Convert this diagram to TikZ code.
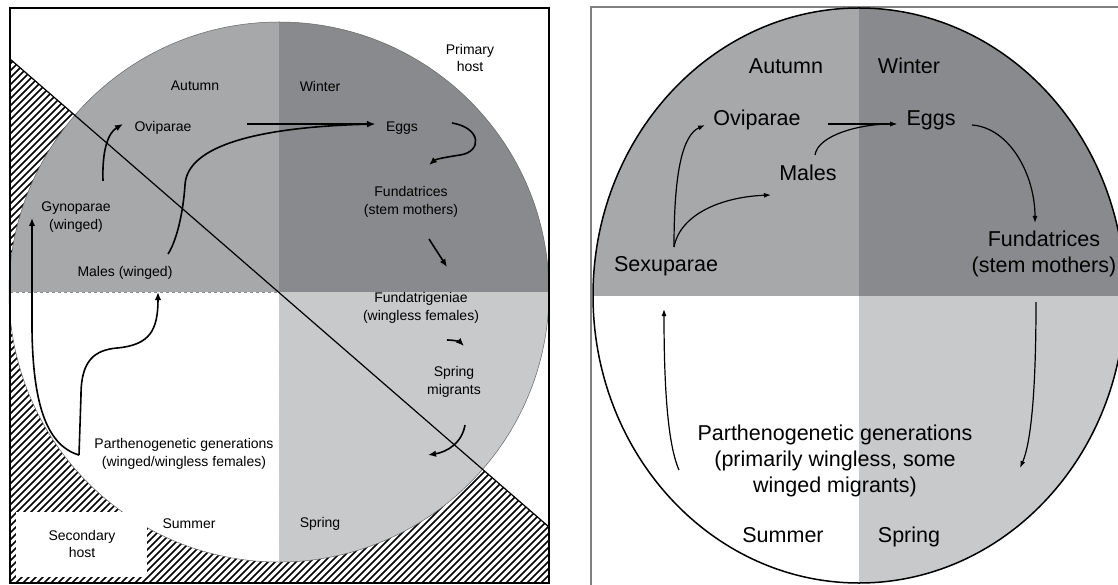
\documentclass[tikz,border=0pt]{standalone}
\usepackage{fontspec}
\setmainfont{Liberation Sans}
\usetikzlibrary{arrows.meta}
\definecolor{autumn}{HTML}{A7A8AA}
\definecolor{winter}{HTML}{898A8D}
\definecolor{spring}{HTML}{C8C9CB}
\begin{document}
\begin{tikzpicture}[
  x=1pt, y=-1pt,
  every node/.style={align=center, inner sep=0pt},
  lab/.style={font=\fontsize{14}{17.3}\selectfont},
  big/.style={font=\fontsize{21.5}{26}\selectfont},
  cyc/.style={line width=1.6pt, -{Latex[length=8pt,width=6.5pt]}},
  cycr/.style={line width=1.2pt, -{Latex[length=7pt,width=5pt]}},
  hatch/.style={line width=1.5pt}
]
\useasboundingbox (0,0) rectangle (1118,585);
\clip (0,0) rectangle (1118,585);

% left panel: hosts and seasons
\begin{scope}
  \clip (10,59) -- (549,527) -- (549,583) -- (10,583) -- cycle;
  \foreach \c in {60,67,...,1140}
    \draw[hatch] (\c,0) -- (0,\c);
\end{scope}
\begin{scope}
  \clip (279,292) circle (270);
  \fill[autumn] (0,0) rectangle (279,292);
  \fill[winter] (279,0) rectangle (560,292);
  \fill[white] (0,292) rectangle (279,570);
  \fill[spring] (279,292) rectangle (560,570);
\end{scope}
\draw[black!45, dashed, line width=0.6pt] (10,292) -- (279,292);
\draw[white!80!black, dashed, line width=0.6pt] (279,292) -- (279,562);
\draw[black!60, line width=0.5pt] (279,292) circle (270);
\draw[line width=1.2pt] (10,59) -- (549,527);
\draw[line width=1.3pt] (10,8) rectangle (549,583);
\fill[white] (16,512) rectangle (147,577);

\node[lab] (primhost) at (470,58) {Primary\\host};
\node[lab] (autumnL) at (195,86) {Autumn};
\node[lab] (winterL) at (320,86) {Winter};
\node[lab] (ovipL) at (163,128) {Oviparae};
\node[lab] (eggsL) at (402,128) {Eggs};
\node[lab] (fundL) at (411,202) {Fundatrices\\(stem mothers)};
\node[lab] (gynoL) at (76,217) {Gynoparae\\(winged)};
\node[lab] (malesL) at (125,273) {Males (winged)};
\node[lab] (fundtrig) at (421,308) {Fundatrigeniae\\(wingless females)};
\node[lab] (springmig) at (454,382) {Spring\\migrants};
\node[lab] (parthL) at (184,454) {Parthenogenetic generations\\(winged/wingless females)};
\node[lab] (summerL) at (189,524) {Summer};
\node[lab] (springL) at (320,524) {Spring};
\node[lab] (sechost) at (82,544) {Secondary\\host};

\coordinate (ovipLout) at (247,124);
\coordinate (eggsLin) at (375,124);
\coordinate (malesLout) at (168,254);
\coordinate (gynoLout) at (103,181);
\coordinate (ovipLin) at (123,124);
\coordinate (eggsLout) at (452,123);
\coordinate (fundLin) at (429,165);
\coordinate (fundLout) at (429,239);
\coordinate (fundtrigin) at (447,267);
\coordinate (fundtrigout) at (447,340);
\coordinate (springmigin) at (464,346);
\coordinate (springmigout) at (465,425);
\coordinate (parthLin) at (428,455);
\coordinate (parthsplit) at (79,455);
\coordinate (gynoLin) at (32,218);
\coordinate (malesLin) at (158,292);

\draw[cyc] (ovipLout) -- (eggsLin);
\draw[cyc] (malesLout) .. controls (176,242) and (183,215) .. (185,185)
  .. controls (187,145) and (260,127) .. (eggsLin);
\draw[cyc] (gynoLout) .. controls (102,150) and (108,133) .. (ovipLin);
\draw[cyc] (eggsLout) .. controls (482,128) and (482,152) .. (460,155)
  .. controls (447,157) and (436,159) .. (fundLin);
\draw[cyc] (fundLout) -- (fundtrigin);
\draw[cyc] (fundtrigout) .. controls (455,340) and (460,342) .. (springmigin);
\draw[cyc] (springmigout) .. controls (462,443) and (447,452) .. (parthLin);
\draw[cyc] (parthsplit) .. controls (45,445) and (33,400) .. (32,330) -- (gynoLin);
\draw[cyc] (parthsplit) -- (81,395) .. controls (81,360) and (95,350) .. (117,348)
  .. controls (150,345) and (158,330) .. (malesLin);

% right panel: single host
\draw[black!50, line width=1.4pt] (591,590) -- (591,7) -- (1125,7);
\begin{scope}
  \clip (859,295.5) ellipse [x radius=266, y radius=287.5];
  \fill[autumn] (590,0) rectangle (859,296);
  \fill[winter] (859,0) rectangle (1130,296);
  \fill[white] (590,296) rectangle (859,590);
  \fill[spring] (859,296) rectangle (1130,590);
\end{scope}
\draw[line width=1.5pt] (859,295.5) ellipse [x radius=266, y radius=287.5];

\node[big] (autumnR) at (786,66) {Autumn};
\node[big] (winterR) at (909,66) {Winter};
\node[big] (ovipR) at (757,120) {Oviparae};
\node[big] (eggsR) at (931,120) {Eggs};
\node[big] (malesR) at (808,173) {Males};
\node[big] (sexuR) at (666,266) {Sexuparae};
\node[big] (fundR) at (1044,254) {Fundatrices\\(stem mothers)};
\node[big] (parthR) at (835,461) {Parthenogenetic generations\\(primarily wingless, some\\winged migrants)};
\node[big] (summerR) at (783,535) {Summer};
\node[big] (springR) at (909,537) {Spring};

\coordinate (sexusplit) at (674,247);
\coordinate (ovipRin) at (705,125);
\coordinate (malesRin) at (771,195);
\coordinate (malesRout) at (815,155);
\coordinate (ovipRout) at (828,124);
\coordinate (eggsRin) at (897,124);
\coordinate (eggsRout) at (972,125);
\coordinate (fundRin) at (1035,223);
\coordinate (fundRout) at (1036,302);
\coordinate (parthRin) at (1020,468);
\coordinate (parthRout) at (679,470);
\coordinate (sexuRin) at (664,309);

\draw[cycr] (sexusplit) .. controls (674,170) and (683,135) .. (ovipRin);
\draw[cycr] (sexusplit) .. controls (680,215) and (720,197) .. (malesRin);
\draw[cycr] (malesRout) .. controls (818,135) and (860,124) .. (eggsRin);
\draw[cycr] (ovipRout) -- (eggsRin);
\draw[cycr] (eggsRout) .. controls (1010,128) and (1035,175) .. (fundRin);
\draw[cycr] (fundRout) .. controls (1036,400) and (1030,445) .. (parthRin);
\draw[cycr] (parthRout) .. controls (668,445) and (664,390) .. (sexuRin);
\end{tikzpicture}
\end{document}
